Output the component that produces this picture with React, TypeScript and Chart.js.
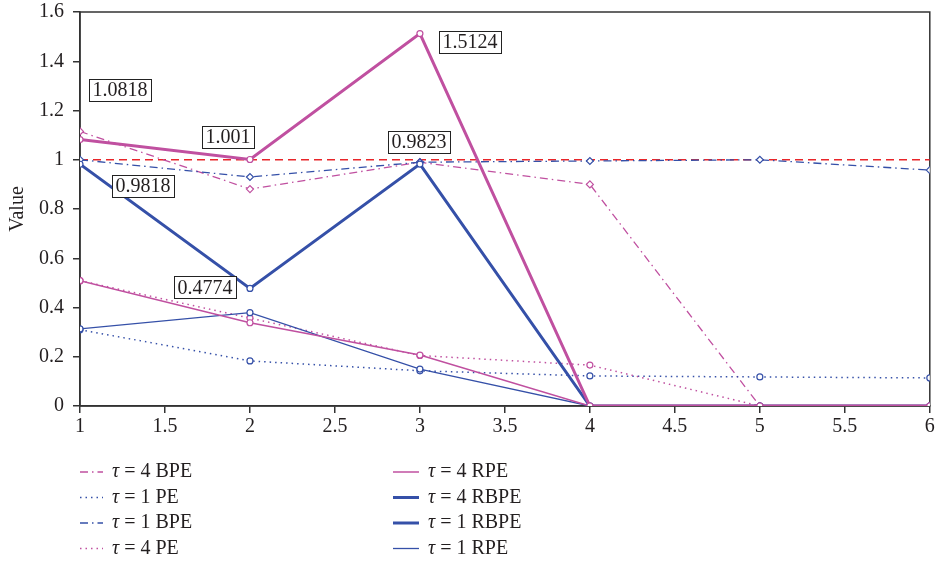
import React, { useEffect, useRef } from 'react';
import { Chart, registerables } from 'chart.js';

Chart.register(...registerables);

// ---------- data ----------
const xValues = [1, 2, 3, 4, 5, 6];
const tau4BPE = [1.115, 0.881, 0.99, 0.9, 0, 0];
const tau1PE = [0.31, 0.183, 0.143, 0.122, 0.118, 0.114];
const tau1BPE = [1.0, 0.93, 0.99, 0.995, 1.0, 0.958];
const tau4PE = [0.509, 0.357, 0.205, 0.166, 0, 0];
const tau4RPE = [0.509, 0.338, 0.207, 0, 0, 0];
const tau4RBPE = [1.0818, 1.001, 1.5124, 0, 0, 0];
const tau1RBPE = [0.9818, 0.4774, 0.9823, 0, 0, 0];
const tau1RPE = [0.313, 0.379, 0.15, 0, 0, 0];
const referenceLine = [1, 1, 1, 1, 1, 1];

const legendLeft = ['τ = 4 BPE', 'τ = 1 PE', 'τ = 1 BPE', 'τ = 4 PE'];
const legendRight = ['τ = 4 RPE', 'τ = 4 RBPE', 'τ = 1 RBPE', 'τ = 1 RPE'];

const annotations = [
  { series: 'τ = 4 RBPE', index: 0, text: '1.0818', dx: 40, dy: -50 },
  { series: 'τ = 4 RBPE', index: 1, text: '1.001', dx: -22, dy: -23 },
  { series: 'τ = 4 RBPE', index: 2, text: '1.5124', dx: 50, dy: 8 },
  { series: 'τ = 1 RBPE', index: 2, text: '0.9823', dx: -1, dy: -22 },
  { series: 'τ = 1 RBPE', index: 0, text: '0.9818', dx: 63, dy: 22 },
  { series: 'τ = 1 RBPE', index: 1, text: '0.4774', dx: -45, dy: -1 },
];

// ---------- styles ----------
const MAGENTA = '#c050a0';
const BLUE = '#3550a8';
const RED = '#e8262a';
const INK = '#231f20';
const FONT = "'Liberation Serif', 'DejaVu Serif', serif";
const FS = 20;

const DOT = [1.5, 4];
const DASHDOT = [8, 4, 1.5, 4];

const toPts = (arr: number[]) => xValues.map((x, i) => ({ x, y: arr[i] }));

type Style = { color: string; width: number; dash: number[]; point: string };
const styles: Record<string, Style> = {
  'τ = 4 BPE': { color: MAGENTA, width: 1.3, dash: DASHDOT, point: 'rectRot' },
  'τ = 1 PE': { color: BLUE, width: 1.5, dash: DOT, point: 'circle' },
  'τ = 1 BPE': { color: BLUE, width: 1.3, dash: DASHDOT, point: 'rectRot' },
  'τ = 4 PE': { color: MAGENTA, width: 1.5, dash: DOT, point: 'circle' },
  'τ = 4 RPE': { color: MAGENTA, width: 1.5, dash: [], point: 'circle' },
  'τ = 4 RBPE': { color: MAGENTA, width: 3, dash: [], point: 'circle' },
  'τ = 1 RBPE': { color: BLUE, width: 3, dash: [], point: 'circle' },
  'τ = 1 RPE': { color: BLUE, width: 1.3, dash: [], point: 'circle' },
};
const legendColorOverride: Record<string, string> = { 'τ = 4 RBPE': BLUE };

const seriesData: Record<string, number[]> = {
  'τ = 4 BPE': tau4BPE,
  'τ = 1 PE': tau1PE,
  'τ = 1 BPE': tau1BPE,
  'τ = 4 PE': tau4PE,
  'τ = 4 RPE': tau4RPE,
  'τ = 4 RBPE': tau4RBPE,
  'τ = 1 RBPE': tau1RBPE,
  'τ = 1 RPE': tau1RPE,
};

const drawOrder = ['τ = 4 RBPE', 'τ = 1 RBPE', 'τ = 4 RPE', 'τ = 1 RPE', 'τ = 4 PE', 'τ = 1 PE', 'τ = 1 BPE', 'τ = 4 BPE'];

const boxPlugin = {
  id: 'boxPlugin',
  beforeDatasetsDraw(chart: any) {
    const { ctx, chartArea: a } = chart;
    ctx.save();
    ctx.strokeStyle = '#333';
    ctx.lineWidth = 1.5;
    ctx.strokeRect(a.left, a.top, a.right - a.left, a.bottom - a.top);
    ctx.restore();
  },
};

const annotationPlugin = {
  id: 'annotationPlugin',
  afterDatasetsDraw(chart: any) {
    const { ctx } = chart;
    const xs = chart.scales.x;
    const ys = chart.scales.y;
    ctx.save();
    ctx.font = `${FS}px ${FONT}`;
    ctx.textAlign = 'center';
    ctx.textBaseline = 'middle';
    annotations.forEach((a) => {
      const v = seriesData[a.series][a.index];
      const px = xs.getPixelForValue(xValues[a.index]) + a.dx;
      const py = ys.getPixelForValue(v) + a.dy;
      const w = ctx.measureText(a.text).width + 7;
      const h = 22;
      ctx.fillStyle = '#fff';
      ctx.fillRect(px - w / 2, py - h / 2, w, h);
      ctx.strokeStyle = '#222';
      ctx.lineWidth = 1;
      ctx.strokeRect(Math.round(px - w / 2) + 0.5, Math.round(py - h / 2) + 0.5, Math.round(w), h);
      ctx.fillStyle = INK;
      ctx.fillText(a.text, px, py + 1);
    });
    ctx.restore();
  },
};

const legendPlugin = {
  id: 'customLegend',
  afterDraw(chart: any) {
    const { ctx } = chart;
    const cols = [
      { items: legendLeft, x0: 80, x1: 103, tx: 112 },
      { items: legendRight, x0: 393, x1: 419, tx: 428 },
    ];
    const rowY = [472, 497.5, 523, 548.5];
    ctx.save();
    cols.forEach((c) => {
      c.items.forEach((label, i) => {
        const s = styles[label];
        const y = rowY[i];
        ctx.strokeStyle = legendColorOverride[label] || s.color;
        ctx.lineWidth = s.width;
        ctx.setLineDash(s.dash);
        ctx.beginPath();
        ctx.moveTo(c.x0, y);
        ctx.lineTo(c.x1, y);
        ctx.stroke();
        ctx.setLineDash([]);
        ctx.fillStyle = INK;
        ctx.textBaseline = 'middle';
        ctx.textAlign = 'left';
        ctx.font = `italic ${FS}px ${FONT}`;
        ctx.fillText('τ', c.tx, y);
        const tw = ctx.measureText('τ').width;
        ctx.font = `${FS}px ${FONT}`;
        ctx.fillText(label.slice(1), c.tx + tw, y);
      });
    });
    ctx.restore();
  },
};

export default function App() {
  const ref = useRef<HTMLCanvasElement | null>(null);
  useEffect(() => {
    if (!ref.current) return;
    const datasets: any[] = drawOrder.map((label) => {
      const s = styles[label];
      return {
        label,
        data: toPts(seriesData[label]),
        borderColor: s.color,
        borderWidth: s.width,
        borderDash: s.dash,
        pointStyle: s.point,
        pointRadius: s.point === 'rectRot' ? 3.5 : 3,
        pointBorderColor: s.color,
        pointBackgroundColor: '#fff',
        pointBorderWidth: 1.2,
        fill: false,
        tension: 0,
      };
    });
    datasets.push({
      label: 'reference',
      data: toPts(referenceLine),
      borderColor: RED,
      borderWidth: 1.5,
      borderDash: [8, 5],
      pointRadius: 0,
      fill: false,
    });
    const chart = new Chart(ref.current, {
      type: 'line',
      data: { datasets },
      options: {
        animation: false,
        responsive: false,
        maintainAspectRatio: false,
        layout: { padding: { top: 12, right: 4, bottom: 129, left: 0 } },
        plugins: { legend: { display: false }, tooltip: { enabled: false } },
        scales: {
          x: {
            type: 'linear',
            min: 1,
            max: 6,
            ticks: {
              stepSize: 0.5,
              color: INK,
              font: { family: FONT, size: FS },
              padding: 2,
              callback: (v: any) => String(v),
            },
            grid: { drawOnChartArea: false, drawTicks: true, tickLength: 7, color: '#333', lineWidth: 1.5 },
            border: { display: true, color: '#333', width: 1.5 },
            afterFit: (s: any) => {
              s.height = 30;
              s.paddingLeft = 0;
              s.paddingRight = 0;
            },
          },
          y: {
            min: 0,
            max: 1.6,
            ticks: {
              stepSize: 0.2,
              color: INK,
              font: { family: FONT, size: FS },
              padding: 9,
              callback: (v: any) => String(Number(Number(v).toFixed(1))),
            },
            title: {
              display: true,
              text: 'Value',
              color: INK,
              font: { family: FONT, size: FS },
              padding: { top: 6, bottom: 0 },
            },
            grid: { drawOnChartArea: false, drawTicks: true, tickLength: 7, color: '#333', lineWidth: 1.5 },
            border: { display: true, color: '#333', width: 1.5 },
            afterFit: (s: any) => {
              s.width = 80;
              s.paddingTop = 0;
              s.paddingBottom = 0;
            },
          },
        },
      },
      plugins: [boxPlugin, annotationPlugin, legendPlugin],
    });
    return () => chart.destroy();
  }, []);
  return (
    <div style={{ position: 'fixed', left: 0, top: 0, width: 935, height: 565, background: '#fff' }}>
      <canvas ref={ref} width={935} height={565} style={{ display: 'block' }} />
    </div>
  );
}
